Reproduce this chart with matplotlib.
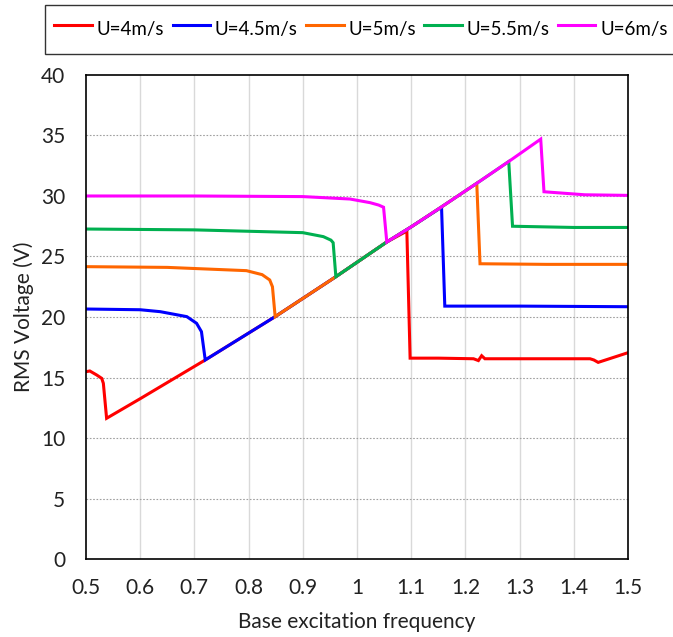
import matplotlib.pyplot as plt

# U = 4 m/s
f_u40 = [0.500, 0.507, 0.520, 0.529, 0.532, 0.538, 0.600, 0.720, 0.849, 0.961, 1.055, 1.092,
         1.098, 1.150, 1.215, 1.224, 1.230, 1.236, 1.300, 1.430, 1.437, 1.445, 1.500]
v_u40 = [15.48, 15.54, 15.20, 14.93, 14.52, 11.63, 13.25, 16.45, 20.03, 23.33, 26.20, 27.10,
         16.60, 16.60, 16.55, 16.40, 16.80, 16.55, 16.55, 16.55, 16.45, 16.25, 17.05]

# U = 4.5 m/s
f_u45 = [0.500, 0.600, 0.637, 0.686, 0.704, 0.713, 0.720, 0.849, 0.961, 1.055, 1.100, 1.156,
         1.162, 1.300, 1.500]
v_u45 = [20.66, 20.60, 20.44, 20.03, 19.48, 18.79, 16.45, 20.03, 23.33, 26.20, 27.45, 29.07,
         20.90, 20.90, 20.85]

# U = 5 m/s
f_u50 = [0.500, 0.650, 0.796, 0.825, 0.839, 0.844, 0.849, 0.961, 1.055, 1.100, 1.156, 1.221,
         1.227, 1.350, 1.500]
v_u50 = [24.16, 24.10, 23.83, 23.50, 23.06, 22.50, 20.03, 23.33, 26.20, 27.45, 29.10, 31.05,
         24.40, 24.35, 24.35]

# U = 5.5 m/s
f_u55 = [0.500, 0.700, 0.900, 0.938, 0.952, 0.956, 0.961, 1.055, 1.100, 1.156, 1.221, 1.280,
         1.287, 1.400, 1.500]
v_u55 = [27.27, 27.20, 26.97, 26.64, 26.35, 26.14, 23.33, 26.20, 27.45, 29.10, 31.05, 32.85,
         27.50, 27.40, 27.40]

# U = 6 m/s
f_u60 = [0.500, 0.700, 0.900, 0.987, 1.024, 1.040, 1.049, 1.055, 1.100, 1.156, 1.221, 1.280,
         1.339, 1.345, 1.420, 1.500]
v_u60 = [30.00, 30.00, 29.95, 29.75, 29.45, 29.25, 29.07, 26.20, 27.45, 29.10, 31.05, 32.85,
         34.70, 30.35, 30.10, 30.05]

series = [
    ('U=4m/s', f_u40, v_u40, '#FF0000'),
    ('U=4.5m/s', f_u45, v_u45, '#0000FF'),
    ('U=5m/s', f_u50, v_u50, '#FF6600'),
    ('U=5.5m/s', f_u55, v_u55, '#00B050'),
    ('U=6m/s', f_u60, v_u60, '#FF00FF'),
]

x_ticks = [0.5, 0.6, 0.7, 0.8, 0.9, 1.0, 1.1, 1.2, 1.3, 1.4, 1.5]
y_ticks = [0, 5, 10, 15, 20, 25, 30, 35, 40]


def main() -> None:
    plt.rcParams['font.family'] = ['Lato', 'DejaVu Sans']

    fig = plt.figure(figsize=(6.73, 6.37), dpi=100)
    ax = fig.add_axes([0.1278, 0.1224, 0.8053, 0.7599])

    for label, f, v, color in series:
        ax.plot(f, v, color=color, lw=2.2, label=label, solid_joinstyle='miter')

    ax.set_xlim(0.5, 1.5)
    ax.set_ylim(0, 40)
    ax.set_xticks(x_ticks)
    ax.set_xticklabels([f'{t:g}' for t in x_ticks])
    ax.set_yticks(y_ticks)

    for t in x_ticks[1:-1]:
        ax.axvline(t, color='#d9d9d9', lw=1.0, zorder=0)
    for t in y_ticks[1:-1]:
        ax.axhline(t, color='#a0a0a0', lw=0.8, ls=(0, (1.5, 1.5)), zorder=0)

    for s in ax.spines.values():
        s.set_color('black')
        s.set_linewidth(1.2)

    ax.tick_params(length=0, labelsize=15, colors='#222222')
    ax.tick_params(axis='x', pad=14)
    ax.tick_params(axis='y', pad=15)

    ax.set_xlabel('Base excitation frequency', fontsize=15, color='#222222', labelpad=10)
    ax.set_ylabel('RMS Voltage (V)', fontsize=15, color='#222222', labelpad=5)

    # legend box runs off the right edge, as in the reference
    leg = fig.legend(loc='upper left', bbox_to_anchor=(0.067, 0.992), ncol=5,
                     fontsize=13.5, frameon=True, fancybox=False, edgecolor='black',
                     handlelength=2.0, handleheight=2.1, handletextpad=0.25,
                     columnspacing=0.45, borderpad=0.5, borderaxespad=0)
    leg.get_frame().set_linewidth(1.0)

    fig.savefig('out.png', dpi=100)


if __name__ == '__main__':
    main()
